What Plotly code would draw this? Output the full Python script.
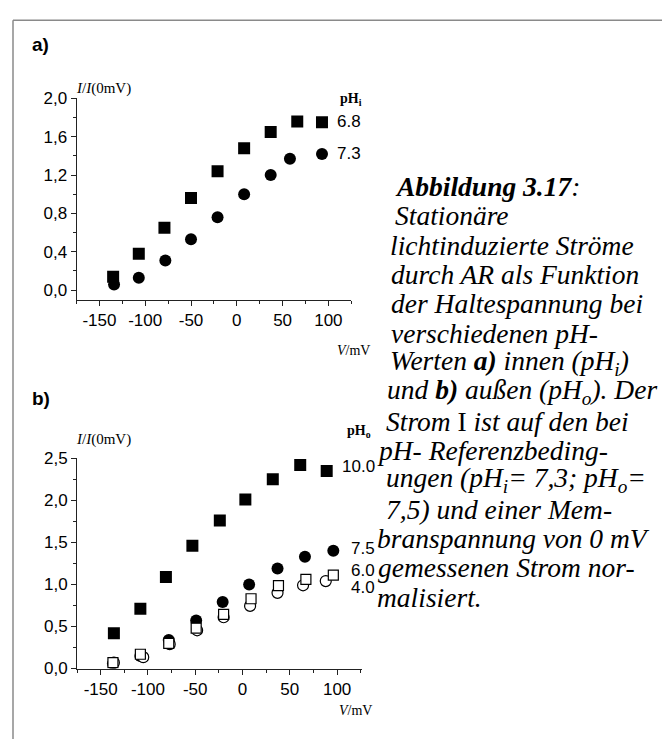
import plotly.graph_objects as go
import subprocess

W, H = 662, 749

# ---------------- data ----------------
va_68 = [-135, -107, -79, -50, -21, 8, 37, 66, 93]
ia_68 = [0.14, 0.38, 0.65, 0.96, 1.24, 1.48, 1.65, 1.76, 1.75]
va_73 = [-134, -107, -78, -50, -21, 8, 37, 58, 93]
ia_73 = [0.06, 0.13, 0.31, 0.53, 0.76, 1.00, 1.20, 1.37, 1.42]

vb_100 = [-136, -108, -81, -53, -24, 3, 32, 61, 89]
ib_100 = [0.42, 0.71, 1.09, 1.46, 1.76, 2.01, 2.25, 2.42, 2.35]
vb_75 = [-137, -108, -78, -49, -21, 7, 37, 66, 96]
ib_75 = [0.06, 0.15, 0.34, 0.57, 0.79, 1.00, 1.19, 1.33, 1.40]
vb_60 = [-137, -108, -78, -49, -20, 9, 38, 67, 96]
ib_60 = [0.07, 0.17, 0.30, 0.48, 0.645, 0.83, 0.985, 1.06, 1.11]
vb_40 = [-136, -105, -77, -48, -20, 8, 37, 64, 88]
ib_40 = [0.07, 0.135, 0.29, 0.455, 0.61, 0.745, 0.90, 0.99, 1.04]

x_tickvals = [-150, -100, -50, 0, 50, 100]
x_ticktext = ["-150", "-100", "-50", "0", "50", "100"]
ya_tickvals = [0.0, 0.4, 0.8, 1.2, 1.6, 2.0]
ya_ticktext = ["0,0", "0,4", "0,8", "1,2", "1,6", "2,0"]
yb_tickvals = [0.0, 0.5, 1.0, 1.5, 2.0, 2.5]
yb_ticktext = ["0,0", "0,5", "1,0", "1,5", "2,0", "2,5"]

legend_a = ["6.8", "7.3"]
legend_b = ["10.0", "7.5", "6.0", "4.0"]

caption = [
    "<b>Abbildung 3.17</b>:",
    "Stationäre",
    "lichtinduzierte Ströme",
    "durch AR als Funktion",
    "der Haltespannung bei",
    "verschiedenen pH-",
    "Werten <b>a)</b> innen (pH<sub>i</sub>)",
    "und <b>b)</b> außen (pH<sub>o</sub>). Der",
    "Strom </i>I<i> ist auf den bei",
    "pH- Referenzbeding-",
    "ungen (pH<sub>i</sub>= 7,3; pH<sub>o</sub>=",
    "7,5) und einer Mem-",
    "branspannung von 0 mV",
    "gemessenen Strom nor-",
    "malisiert.",
]
caption_x = [394, 394, 389, 390, 390, 390, 389, 386, 385, 376, 385, 385, 376, 377, 376]


def pick_serif():
    try:
        out = subprocess.run(["fc-list", ":", "family", "style"],
                             capture_output=True, text=True, timeout=20).stdout
    except Exception:
        return "serif"
    italic = set()
    for line in out.splitlines():
        if ":" not in line:
            continue
        fam, style = line.split(":", 1)
        if "Italic" in style or "Oblique" in style:
            for f in fam.split(","):
                italic.add(f.strip())
    for cand in ["Times New Roman", "Liberation Serif", "Tinos", "Nimbus Roman",
                 "TeX Gyre Termes", "Noto Serif", "PT Serif", "DejaVu Serif"]:
        if cand in italic:
            return cand
    return "serif"


SERIF = pick_serif()
SANS = "Liberation Sans"
AX = "#222222"


def px(x):
    return x / W


def py(y):
    return 1 - y / H


fig = go.Figure()

sq = dict(symbol="square", size=12, color="black", line=dict(width=0))
ci = dict(symbol="circle", size=12, color="black", line=dict(width=0))
osq = dict(symbol="square", size=10, color="white", line=dict(width=1.2, color="black"))
oci = dict(symbol="circle", size=11, color="white", line=dict(width=1.2, color="black"))

fig.add_trace(go.Scatter(x=va_68, y=ia_68, mode="markers", marker=sq, xaxis="x", yaxis="y"))
fig.add_trace(go.Scatter(x=va_73, y=ia_73, mode="markers", marker=ci, xaxis="x", yaxis="y"))

fig.add_trace(go.Scatter(x=vb_100, y=ib_100, mode="markers", marker=sq, xaxis="x2", yaxis="y2"))
fig.add_trace(go.Scatter(x=vb_75, y=ib_75, mode="markers", marker=ci, xaxis="x2", yaxis="y2"))
fig.add_trace(go.Scatter(x=vb_40, y=ib_40, mode="markers", marker=oci, xaxis="x2", yaxis="y2"))
fig.add_trace(go.Scatter(x=vb_60, y=ib_60, mode="markers", marker=osq, xaxis="x2", yaxis="y2"))

axis_common = dict(
    showgrid=False, zeroline=False, showline=True, linecolor=AX, linewidth=1,
    ticks="outside", ticklen=5, tickwidth=1, tickcolor=AX,
    tickfont=dict(family=SANS, size=17, color="black"),
)

fig.update_layout(
    width=W, height=H,
    margin=dict(l=0, r=0, t=0, b=0),
    paper_bgcolor="white", plot_bgcolor="white",
    showlegend=False,
    xaxis=dict(axis_common, domain=[px(76.5), px(351.3)], range=[-175, 125],
               tickmode="array", tickvals=x_tickvals, ticktext=x_ticktext,
               minor=dict(ticks="outside", ticklen=3, tickcolor=AX, dtick=25, tick0=-175),
               anchor="y"),
    yaxis=dict(axis_common, domain=[py(298.3), py(91.7)], range=[-0.1, 2.0],
               tickmode="array", tickvals=ya_tickvals, ticktext=ya_ticktext,
               minor=dict(ticks="outside", ticklen=3, tickcolor=AX, dtick=0.2, tick0=0),
               anchor="x"),
    xaxis2=dict(axis_common, domain=[px(77), px(361.7)], range=[-175, 126],
                tickmode="array", tickvals=x_tickvals, ticktext=x_ticktext,
                minor=dict(ticks="outside", ticklen=3, tickcolor=AX, dtick=25, tick0=-175),
                anchor="y2"),
    yaxis2=dict(axis_common, domain=[py(676.7), py(461)], range=[0, 2.5],
                tickmode="array", tickvals=yb_tickvals, ticktext=yb_ticktext,
                minor=dict(ticks="outside", ticklen=3, tickcolor=AX, dtick=0.25, tick0=0),
                anchor="x2"),
)

ann = []


def text(x, y, s, size, family, xanchor="left", color="black"):
    ann.append(dict(x=px(x), y=py(y), xref="paper", yref="paper", text=s,
                    showarrow=False, xanchor=xanchor, yanchor="middle", borderpad=0,
                    font=dict(family=family, size=size, color=color)))


text(31, 36, "<b>a)</b>", 19, SANS)
text(31, 400, "<b>b)</b>", 19, SANS)

text(75, 82, "<i>I</i>/<i>I</i>(0mV)", 15, SERIF)
text(75, 442, "<i>I</i>/<i>I</i>(0mV)", 15, SERIF)
text(336, 350, "<i>V</i>/mV", 14, SERIF)
text(338, 720, "<i>V</i>/mV", 14, SERIF)

text(339, 93, "<b>pH<sub>i</sub></b>", 14, SERIF)
text(346, 434, "<b>pH<sub>o</sub></b>", 14, SERIF)

for s, y in zip(legend_a, [115, 148]):
    text(336, y, s, 17, SANS)
for s, y, x in zip(legend_b, [469, 554, 576, 594], [341, 350, 350, 350]):
    text(x, y, s, 17, SANS)

for i, line in enumerate(caption):
    text(caption_x[i], 182 + 30.1 * i, "<i>" + line + "</i>", 27.5, SERIF)

fig.update_layout(annotations=ann)

fig.add_shape(type="line", xref="paper", yref="paper", x0=px(13), x1=1.0, y0=py(11.5), y1=py(11.5),
              line=dict(color="#8a8a8a", width=1.5))
fig.add_shape(type="line", xref="paper", yref="paper", x0=px(13), x1=px(13), y0=py(11.5), y1=0,
              line=dict(color="#8a8a8a", width=1.5))

fig.write_html("out.html")
